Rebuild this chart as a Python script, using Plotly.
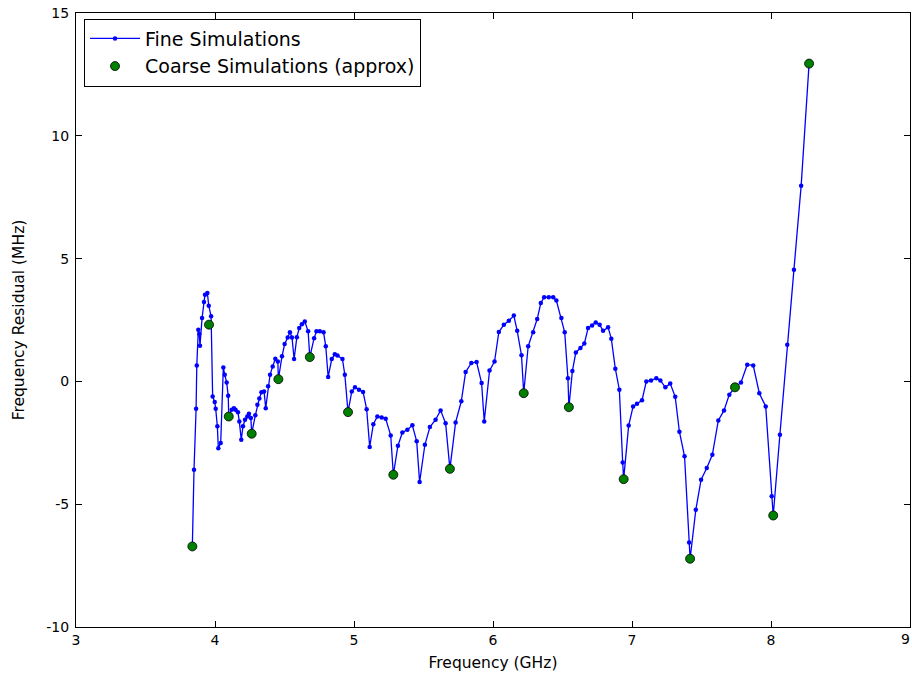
import plotly.graph_objects as go

# Fine-grid simulation sweep: frequency (GHz) and residual (MHz)
fine_freq = [
    3.837, 3.849, 3.864, 3.869, 3.880, 3.887, 3.892, 3.907, 3.921, 3.928,
    3.945, 3.955, 3.972, 3.983, 3.998, 4.005, 4.017, 4.024, 4.041, 4.060,
    4.070, 4.084, 4.095, 4.099, 4.120, 4.136, 4.148, 4.165, 4.175, 4.189,
    4.201, 4.216, 4.232, 4.244, 4.258, 4.264, 4.290, 4.305, 4.319, 4.334,
    4.353, 4.365, 4.382, 4.396, 4.415, 4.434, 4.452, 4.456, 4.482, 4.501,
    4.523, 4.539, 4.554, 4.569, 4.589, 4.606, 4.625, 4.646, 4.670, 4.682,
    4.713, 4.730, 4.754, 4.781, 4.797, 4.814, 4.840, 4.862, 4.881, 4.917,
    4.934, 4.957, 4.984, 5.007, 5.036, 5.065, 5.091, 5.113, 5.139, 5.168,
    5.199, 5.228, 5.264, 5.283, 5.316, 5.348, 5.384, 5.420, 5.451, 5.472,
    5.510, 5.546, 5.587, 5.623, 5.659, 5.690, 5.731, 5.772, 5.803, 5.844,
    5.882, 5.918, 5.937, 5.975, 6.011, 6.042, 6.078, 6.114, 6.150, 6.174,
    6.205, 6.221, 6.253, 6.289, 6.318, 6.344, 6.368, 6.401, 6.433, 6.456,
    6.492, 6.516, 6.539, 6.546, 6.571, 6.596, 6.629, 6.657, 6.684, 6.713,
    6.739, 6.767, 6.792, 6.828, 6.851, 6.880, 6.909, 6.933, 6.940, 6.976,
    7.008, 7.036, 7.072, 7.103, 7.137, 7.175, 7.204, 7.240, 7.275, 7.311,
    7.341, 7.378, 7.411, 7.418, 7.459, 7.497, 7.538, 7.578, 7.621, 7.662,
    7.700, 7.741, 7.784, 7.829, 7.872, 7.916, 7.962, 8.005, 8.016, 8.064,
    8.117, 8.165, 8.217, 8.274,
]
fine_resid = [
    -6.72, -3.60, -1.11, 0.65, 2.10, 1.93, 1.45, 2.58, 3.23, 3.53,
    3.60, 3.08, 2.65, -0.61, -0.84, -1.11, -1.83, -2.72, -2.51, 0.57,
    0.27, -0.04, -0.58, -1.43, -1.15, -1.09, -1.15, -1.26, -1.63, -2.38,
    -1.83, -1.56, -1.43, -1.32, -1.49, -2.13, -1.38, -0.95, -0.70, -0.44,
    -0.41, -1.09, -0.20, 0.27, 0.61, 0.92, 0.81, 0.09, 1.02, 1.52,
    1.79, 2.00, 1.79, 0.91, 1.80, 2.17, 2.33, 2.44, 2.04, 0.99,
    1.76, 2.04, 2.04, 2.00, 1.43, 0.18, 0.91, 1.11, 1.05, 0.91,
    0.27, -1.25, -0.41, -0.24, -0.34, -0.43, -1.13, -2.67, -1.74, -1.43,
    -1.47, -1.52, -2.20, -3.80, -2.62, -2.08, -1.97, -1.79, -2.44, -4.10,
    -2.58, -1.86, -1.56, -1.18, -1.70, -3.56, -1.67, -0.81, 0.38, 0.75,
    0.79, -0.07, -1.63, 0.44, 0.81, 2.01, 2.31, 2.47, 2.68, 2.06,
    1.06, -0.48, 1.43, 2.00, 2.54, 3.19, 3.43, 3.43, 3.43, 3.29,
    2.58, 2.00, 0.13, -1.05, 0.42, 1.18, 1.36, 1.54, 2.17, 2.28,
    2.40, 2.31, 2.06, 2.20, 1.74, 0.52, -0.34, -3.30, -3.98, -1.80,
    -1.02, -0.91, -0.77, 0.00, 0.04, 0.13, 0.04, -0.24, -0.09, -0.63,
    -2.05, -3.05, -6.56, -7.22, -5.23, -4.00, -3.53, -2.99, -1.59, -1.18,
    -0.54, -0.24, -0.04, 0.68, 0.65, -0.48, -1.02, -4.68, -5.46, -2.17,
    1.49, 4.55, 7.97, 12.94,
]

# Coarse-grid (approximate) simulation points
coarse_freq = [3.837, 3.957, 4.099, 4.264, 4.456, 4.682, 4.957, 5.283,
               5.690, 6.221, 6.546, 6.940, 7.418, 7.741, 8.016, 8.274]
coarse_resid = [-6.72, 2.31, -1.43, -2.13, 0.09, 0.99, -1.25, -3.80,
                -3.56, -0.48, -1.05, -3.98, -7.22, -0.24, -5.46, 12.94]

x_ticks = [3, 4, 5, 6, 7, 8, 9]
y_ticks = [-10, -5, 0, 5, 10, 15]

FONT = "DejaVu Sans"
TICK_SIZE = 14

fig = go.Figure()
fig.add_trace(go.Scatter(
    x=fine_freq, y=fine_resid, mode="lines+markers",
    name="Fine Simulations",
    line=dict(color="#0000ff", width=1.3),
    marker=dict(color="#0000ff", size=4.5, line=dict(width=0)),
))
fig.add_trace(go.Scatter(
    x=coarse_freq, y=coarse_resid, mode="markers",
    name="Coarse Simulations (approx)",
    marker=dict(color="#008000", size=9, line=dict(color="black", width=0.8)),
))

axis_common = dict(
    showline=True, linecolor="black", linewidth=1, mirror="ticks",
    ticks="inside", ticklen=6, tickwidth=1, tickcolor="black",
    showgrid=False, zeroline=False,
    tickfont=dict(family=FONT, size=TICK_SIZE, color="black"),
)

# The last x tick label sits on the right edge of the figure; it is drawn
# as a right-anchored annotation so it stays inside the page.
fig.update_xaxes(
    range=[3, 9], tickvals=x_ticks,
    ticktext=[str(v) if v != x_ticks[-1] else "" for v in x_ticks],
    title=dict(text="Frequency (GHz)", font=dict(family=FONT, size=15.5, color="black"), standoff=10),
    **axis_common,
)
fig.update_yaxes(
    range=[-10, 15], tickvals=y_ticks, ticktext=[str(v) for v in y_ticks],
    ticklabelstandoff=3,
    title=dict(text="Frequency Residual (MHz)", font=dict(family=FONT, size=15.5, color="black"), standoff=17),
    **axis_common,
)
fig.add_annotation(
    x=x_ticks[-1], y=0, xref="x", yref="paper", xanchor="right", yanchor="top",
    text=str(x_ticks[-1]), showarrow=False, yshift=-2, xshift=2,
    font=dict(family=FONT, size=TICK_SIZE, color="black"),
)

fig.update_layout(
    width=912, height=677,
    margin=dict(l=76, r=2, t=13, b=50),
    paper_bgcolor="white", plot_bgcolor="white",
    font=dict(family=FONT, color="black"),
    legend=dict(
        x=0.0096, y=0.991, xanchor="left", yanchor="top",
        bordercolor="black", borderwidth=1, bgcolor="white",
        font=dict(family=FONT, size=19, color="black"),
        itemwidth=50, tracegroupgap=0,
    ),
)

fig.write_html("out.html")
